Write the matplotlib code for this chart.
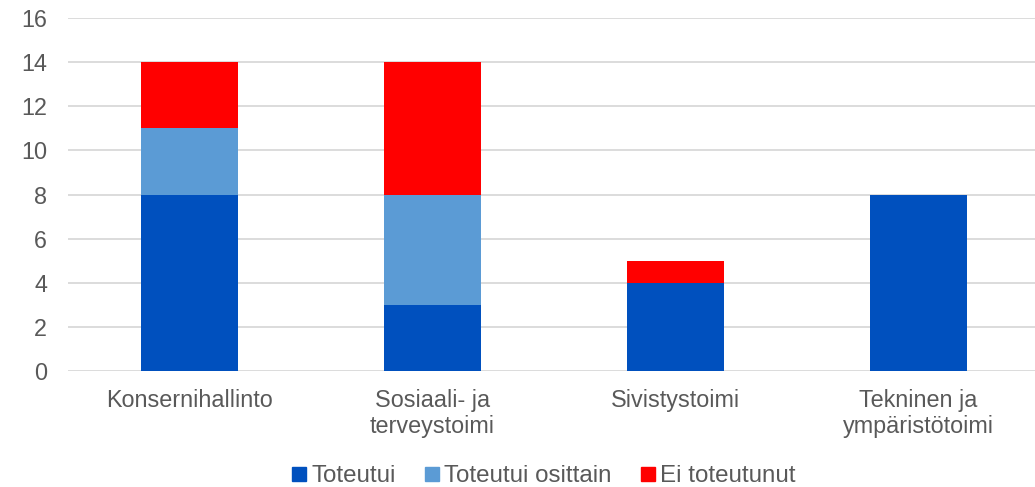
import matplotlib
matplotlib.use("Agg")
import matplotlib.pyplot as plt
from matplotlib.lines import Line2D
import numpy as np

plt.rcParams['font.family'] = ['Liberation Sans', 'DejaVu Sans']

categories = ["Konsernihallinto", "Sosiaali- ja\nterveystoimi", "Sivistystoimi", "Tekninen ja\nympäristötoimi"]
toteutui = [8, 3, 4, 8]
osittain = [3, 5, 0, 0]
ei_toteutunut = [3, 6, 1, 0]
series_names = ["Toteutui", "Toteutui osittain", "Ei toteutunut"]
colors = ["#0050BE", "#5B9BD5", "#FF0000"]
yticks = [0, 2, 4, 6, 8, 10, 12, 14, 16]

text_color = "#595959"
grid_color = "#D9D9D9"
fs = 16.8
legend_fs = 17.4

fig = plt.figure(figsize=(10.35, 4.87), dpi=100)
ax = fig.add_axes([68 / 1035, 116 / 487, 972 / 1035, 353 / 487])

x = np.arange(len(categories))
width = 0.403
bottom = np.zeros(len(categories))
for vals, color in zip([toteutui, osittain, ei_toteutunut], colors):
    ax.bar(x, vals, width, bottom=bottom, color=color, zorder=3)
    bottom += np.array(vals)

ax.set_xlim(-0.5, len(categories) - 0.5)
ax.set_ylim(0, 16)
ax.set_yticks(yticks)
ax.yaxis.grid(True, color=grid_color, linewidth=1.3, zorder=0)
ax.set_axisbelow(True)
for s in ax.spines.values():
    s.set_visible(False)
ax.tick_params(axis='both', length=0, labelsize=fs, colors=text_color)
ax.tick_params(axis='y', pad=15)
ax.tick_params(axis='x', pad=13)
ax.set_xticks(x)
ax.set_xticklabels(categories, linespacing=1.15)

handles = [Line2D([0], [0], marker='s', linestyle='none', markersize=9.5,
                  markerfacecolor=c, markeredgecolor=c) for c in colors]
fig.legend(handles, series_names, loc='center', bbox_to_anchor=(541 / 1035, 1 - 476 / 487),
           ncol=3, frameon=False, fontsize=legend_fs, labelcolor=text_color,
           handletextpad=0.0, columnspacing=1.0, handlelength=1.0,
           borderpad=0.2)

fig.savefig("out.png", dpi=100)
